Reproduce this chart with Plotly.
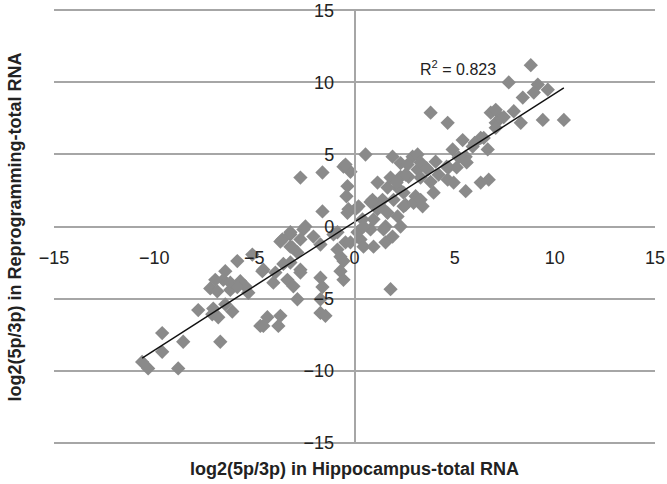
"""Scatter de log2(5p/3p): Hipocampo vs reprogramación, con recta de ajuste."""

import numpy as np
import plotly.graph_objects as go

# valores (x = hipocampo, y = reprogramación)
hippocampus = [
    -10.6, -10.3, -8.8, -9.6, -9.6, -8.55, -6.7, -7.8, -7.1, -7.05, -6.45, -6.1,
    -6.8, -7.2, -6.85, -6.2, -5.3, -4.7, -4.35, -3.7, -4.55, -3.8,
    -6.55, -6.95, -6.45, -5.85, -6.2, -5.7, -5.45, -5.85, -5.1, -4.6, -3.95,
    -3.6, -3.2, -3.2, -2.85, -2.55, -3.35, -3.05, -2.85, -3.2, -2.7, -4.55,
    -4.05, -3.55, -2.7,
    -2.7, -1.6, -0.55, -0.2, -0.35, -0.4, -1.6, -0.35, 0.05, -2.45, -3.2, -2.7,
    -2.05, -3.7, -3.1, -1.7, -1.05, -0.85, -0.45, 0.3, -0.55, -0.7, -0.55,
    -1.7, -1.6, 0.45, -1.7, -1.7, -1.45, -0.7, -0.2, 0.95, 1.55, 1.9, 1.8,
    -0.85, 0.15, 0.8,
    0.55, -0.45, 1.9, 2.3, 2.9, 3.15, 2.7, 2.3, 1.15, 1.65, 2.15, 2.45, 0.9,
    1.4, 1.95, 2.55, 3.05, 1.15, 1.65, 2.15, 0.4, 0.95, 2.3, 1.55, 0.95, -0.3,
    0.2, 0.8, 1.3, 2.45, 2.95, 3.4, 1.45, 0.45,
    3.8, 4.65, 6.8, 7.05, 5.4, 6.3, 5.9, 6.65, 4.9, 3.15, 2.65, 3.3, 4.05,
    5.2, 5.55, 4.7, 3.65, 4.2, 3.3, 3.8, 4.65, 4.95, 3.95, 3.3, 5.55, 6.3,
    6.7, 3.6, 4.6, 5.1, 5.6, 1.8, 2.55, 2.1,
    8.8, 7.7, 9.15, 9.65, 8.95, 8.4, 9.4, 10.45, 7.95, 8.3, 7.05, 7.3, 7.45,
    7.05, 6.45, 6.0,
]
reprogramming = [
    -9.4, -9.85, -9.85, -8.7, -7.4, -8.0, -8.0, -5.8, -6.1, -5.7, -5.4, -5.9,
    -6.3, -4.3, -4.5, -4.4, -4.6, -6.9, -6.3, -6.2, -6.9, -6.9,
    -3.7, -3.7, -3.1, -2.4, -3.9, -3.8, -4.15, -4.2, -1.95, -3.1, -3.2,
    -0.9, -0.55, -1.4, -1.8, -0.2, -3.7, -4.15, -5.05, -2.5, -3.0, -3.0,
    -3.9, -2.6, -3.2,
    3.4, 3.75, 4.15, 3.8, 2.8, 2.1, 1.05, 0.95, 1.2, 0.0, -0.4, -0.9,
    -0.7, -1.05, -1.45, -1.25, -0.55, -1.6, -1.1, -0.9, -2.4, -3.1, -3.7,
    -3.55, -4.2, -1.4, -5.05, -6.0, -6.2, -2.1, -1.1, -1.4, -1.1, -0.7, -4.35,
    -0.4, -0.4, -0.2,
    5.0, 4.3, 4.85, 4.4, 4.85, 3.95, 3.45, 3.45, 3.05, 2.7, 2.7, 2.35, 1.85,
    1.85, 1.85, 1.5, 2.1, 1.2, 0.95, 0.7, 0.5, 0.5, 0.0, 0.0, 1.65, 1.2,
    1.4, 1.7, 1.4, 1.4, 1.65, 1.4, -0.2, 0.0,
    7.9, 7.2, 7.9, 7.2, 6.0, 6.15, 5.55, 5.35, 5.35, 5.0, 4.3, 4.45, 4.5,
    4.8, 4.85, 4.1, 3.95, 3.6, 3.4, 3.1, 3.25, 3.05, 2.35, 1.85, 2.45, 3.05,
    3.25, 4.05, 4.15, 4.1, 4.45, 3.4, 3.6, 3.05,
    11.2, 10.0, 9.85, 9.5, 9.3, 8.95, 7.4, 7.4, 8.0, 7.2, 8.1, 7.55, 7.6,
    6.85, 6.15, 5.8,
]
r2_text = "R<sup>2</sup> = 0.823"

x = np.array(hippocampus)
y = np.array(reprogramming)
pendiente, intercepto = np.polyfit(x, y, 1)
x_linea = np.array([x.min(), x.max()])
y_linea = pendiente * x_linea + intercepto

fuente = "Liberation Sans, Arial, sans-serif"

fig = go.Figure()
fig.add_trace(
    go.Scatter(
        x=x,
        y=y,
        mode="markers",
        marker=dict(symbol="diamond", size=11, color="#8a8a8a", line=dict(width=0)),
        showlegend=False,
    )
)
fig.add_trace(
    go.Scatter(
        x=x_linea,
        y=y_linea,
        mode="lines",
        line=dict(color="#111111", width=1.4),
        showlegend=False,
    )
)

fig.update_layout(
    width=667,
    height=484,
    margin=dict(l=54, r=12, t=9, b=40),
    plot_bgcolor="white",
    paper_bgcolor="white",
    font=dict(family=fuente, size=18, color="#222222"),
    xaxis=dict(
        range=[-15, 15],
        dtick=5,
        showgrid=False,
        zeroline=False,
        showline=False,
        anchor="free",
        position=0.5,
        ticks="",
        ticklabelstandoff=18,
        automargin=False,
    ),
    yaxis=dict(
        # holgura para que plotly no recorte las líneas de ±15
        range=[-15.1, 15.1],
        tick0=0,
        dtick=5,
        showgrid=True,
        gridcolor="#a6a6a6",
        gridwidth=1.5,
        zeroline=False,
        showline=True,
        linecolor="#a6a6a6",
        linewidth=1.5,
        anchor="free",
        position=0.5,
        ticks="",
        ticklabelstandoff=16,
        automargin=False,
    ),
    annotations=[
        dict(
            text=r2_text,
            x=5.15,
            y=11.0,
            xref="x",
            yref="y",
            showarrow=False,
            font=dict(size=16, color="#222222"),
        ),
        dict(
            text="<b>log2(5p/3p) in Hippocampus-total RNA</b>",
            x=0.5,
            y=-0.03,
            xref="paper",
            yref="paper",
            yanchor="top",
            showarrow=False,
            font=dict(size=18, color="#222222"),
        ),
        dict(
            text="<b>log2(5p/3p) in Reprogramming-total RNA</b>",
            x=-0.065,
            y=0.5,
            xref="paper",
            yref="paper",
            textangle=-90,
            xanchor="center",
            showarrow=False,
            font=dict(size=18, color="#222222"),
        ),
    ],
)

# quitar el margen de 8 px del body para que la figura llene la ventana
fig.write_html(
    "out.html",
    config={"displayModeBar": False},
    post_script="document.body.style.margin = '0';",
)
